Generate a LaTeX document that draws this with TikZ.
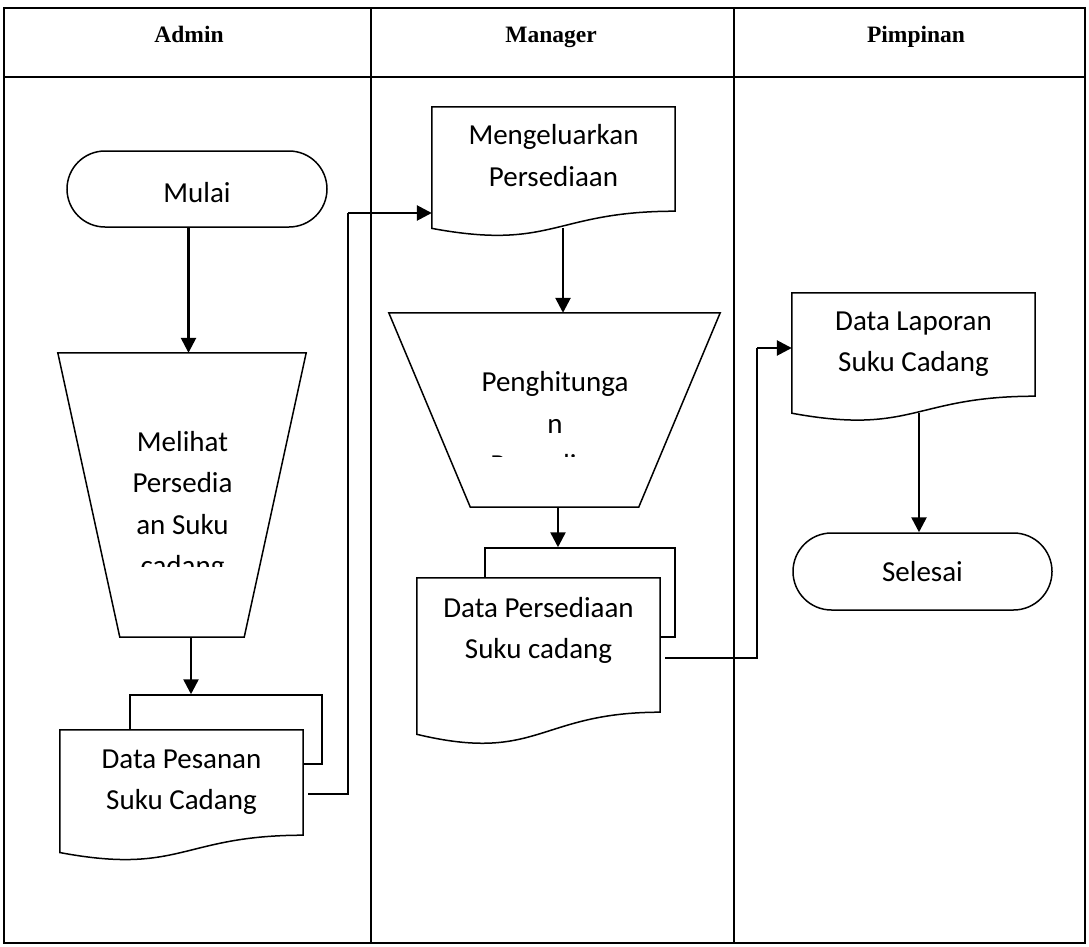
\documentclass[tikz,border=0pt]{standalone}
\usepackage{fontspec}
\setmainfont{Carlito}
\newfontfamily\headfont{Liberation Serif}
\usetikzlibrary{shapes.misc,arrows.meta,calc,backgrounds}

% struts that fix the height of the first line and the depth of the last one
\newcommand\topstrut{\rule{0pt}{20pt}}
\newcommand\botstrut[1][7pt]{\rule[-#1]{0pt}{#1}}

% flowchart document: a sheet whose lower edge is a wave
\newcommand\docsheet[1]{%
  \draw[fcline, fill=white] (#1.north west) -- (#1.north east) -- (#1.south east)
    .. controls (#1.south) and ($(#1.north)!1.381!(#1.south)$)
    .. ($(#1.north west)!1.1646!(#1.south west)$) -- cycle;}

\tikzset{
  fclane/.style={line width=1.8pt},
  fchead/.style={font=\headfont\bfseries\fontsize{23.5}{28}\selectfont, anchor=base, inner sep=0pt},
  fcline/.style={line width=1.5pt},
  fcfont/.style={font=\fontsize{29}{41.5}\selectfont},
  fcterm/.style={rounded rectangle, draw, fcline, fcfont, inner sep=0pt},
  fcdoc/.style={rectangle, draw=none, align=center, fcfont, inner sep=0pt, minimum width=243pt},
  fcback/.style={rectangle, draw, fcline, fill=white, inner sep=0pt},
  fcframe/.style={rectangle, draw=none, inner sep=0pt},
  fctext/.style={align=center, fcfont, inner sep=0pt},
  fcflow/.style={line width=2.6pt, -{Triangle[length=15pt,width=15pt]}},
  fclink/.style={line width=1.5pt},
}

\begin{document}
\begin{tikzpicture}[x=1pt,y=-1pt]
\useasboundingbox (0,0) rectangle (1089,947);

% swimlane table
\draw[fclane] (4,8) rectangle (1085,943);
\draw[fclane] (4,77) -- (1085,77);
\draw[fclane] (371,8) -- (371,943);
\draw[fclane] (734,8) -- (734,943);
\node[fchead] (hadmin) at (189,43) {Admin};
\node[fchead] (hmanager) at (551,43) {Manager};
\node[fchead] (hpimpinan) at (916,43) {Pimpinan};

% terminators
\node[fcterm, minimum width=260pt, minimum height=76pt] (mulai) at (197,189) {\raisebox{-3pt}[20pt][0pt]{Mulai}};
\node[fcterm, minimum width=259pt, minimum height=77pt] (selesai) at (922.5,571.5) {Selesai};

% manual operation: Melihat Persediaan Suku cadang
\node[fcframe, minimum width=248pt, minimum height=284pt] (t1) at (182,495) {};
\draw[fcline] (t1.north west) -- (t1.north east) -- ([xshift=-62pt]t1.south east)
  -- ([xshift=62pt]t1.south west) -- cycle;
\begin{scope}
  \clip (t1.north west) rectangle ($(t1.north east)+(0,214)$);
  \node[fctext] (t1t) at (182.5,506.75) {\topstrut Melihat\\Persedia\\an Suku\\cadang\botstrut};
\end{scope}

% manual operation: Penghitungan Persediaan
\node[fcframe, minimum width=331pt, minimum height=194pt] (t2) at (554.5,410) {};
\draw[fcline] (t2.north west) -- (t2.north east) -- ([xshift=-81.5pt]t2.south east)
  -- ([xshift=81.5pt]t2.south west) -- cycle;
\begin{scope}
  \clip (t2.north west) rectangle ($(t2.north east)+(0,144)$);
  \node[fctext] (t2t) at (555,426.7) {\topstrut Penghitunga\\n\\Persediaan\botstrut};
\end{scope}

% stacked documents: Data Pesanan Suku Cadang
\begin{scope}[on background layer]
  \node[fcback, minimum width=192pt, minimum height=69pt] (d1b) at (226,729.5) {};
\end{scope}
\node[fcdoc, minimum height=105pt] (d1) at (181.5,782.5) {\topstrut Data Pesanan\\Suku Cadang\botstrut};
\begin{scope}[on background layer]
  \docsheet{d1}
\end{scope}

% stacked documents: Data Persediaan Suku cadang
\begin{scope}[on background layer]
  \node[fcback, minimum width=190pt, minimum height=89pt] (d2b) at (580,592.5) {};
\end{scope}
\node[fcdoc, minimum height=134pt] (d2) at (538.5,645) {\topstrut Data Persediaan\\Suku cadang\botstrut[34.5pt]};
\begin{scope}[on background layer]
  \docsheet{d2}
\end{scope}

% single documents
\node[fcdoc, minimum height=104pt] (d3) at (553.5,159) {\topstrut Mengeluarkan\\Persediaan\botstrut};
\node[fcdoc, minimum height=103pt] (d4) at (913.5,344.5) {\topstrut Data Laporan\\Suku Cadang\botstrut};
\begin{scope}[on background layer]
  \docsheet{d3}
  \docsheet{d4}
\end{scope}

% points on the wavy lower edges, and elbow corners
\coordinate (d3tail) at ($(d3.north)!1.163!(d3.south)$);
\coordinate (d4tail) at ($(d4.north)!1.163!(d4.south)$);
\coordinate (k1) at (348,213);
\coordinate (k2) at (757,348);

% connectors
\draw[fcflow] ([xshift=-8.5pt]mulai.south) -- ([xshift=6.5pt]t1.north);
\draw[fcflow] ([xshift=9pt]t1.south) -- ([xshift=-35pt]d1b.north);
\draw[fclink] ([shift={(5pt,-11.5pt)}]d1.east) -| (k1);
\draw[fcflow] (k1) -- (k1 -| d3.west);
\draw[fcflow] ([xshift=9.5pt]d3tail) -- ([xshift=8.5pt]t2.north);
\draw[fcflow] ([xshift=3.5pt]t2.south) -- ([xshift=-22pt]d2b.north);
\draw[fclink] ([shift={(5pt,-13pt)}]d2.east) -| (k2);
\draw[fcflow] (k2) -- (k2 -| d4.west);
\draw[fcflow] ([xshift=5.5pt]d4tail) -- ([xshift=-3.5pt]selesai.north);
\end{tikzpicture}
\end{document}
